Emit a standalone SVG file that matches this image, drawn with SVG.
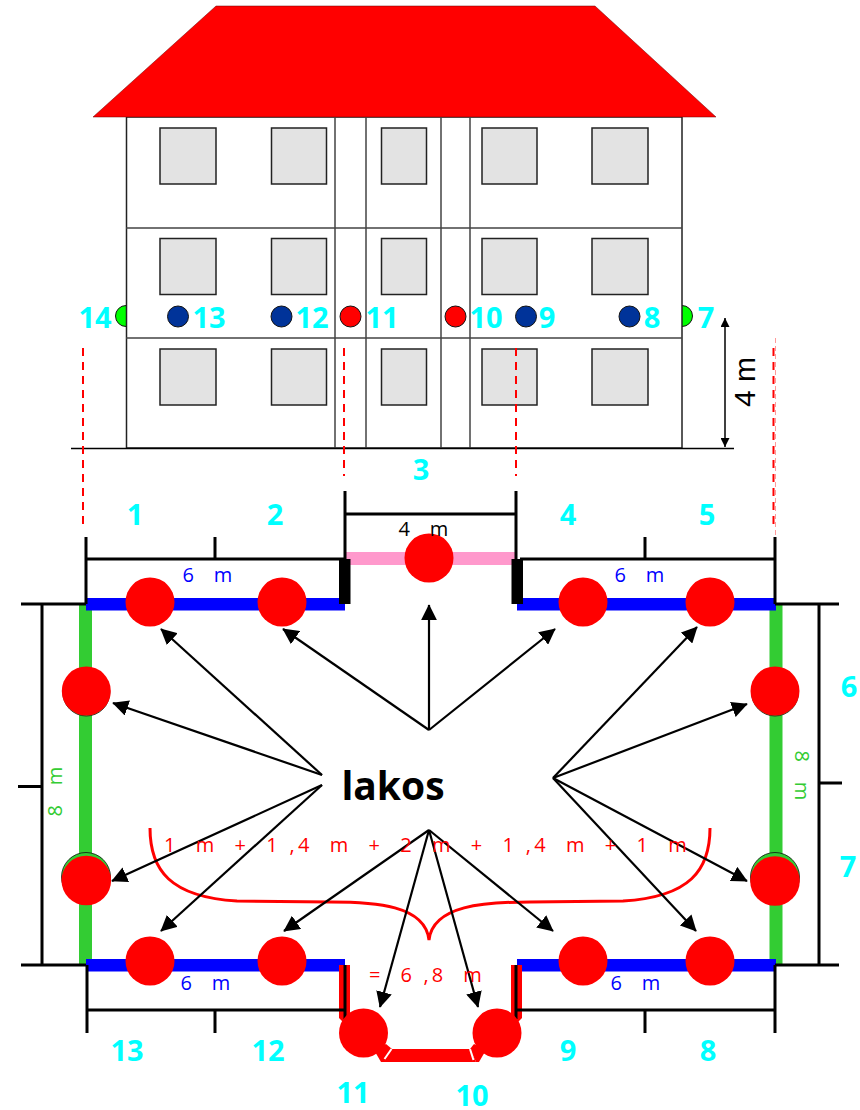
<svg xmlns="http://www.w3.org/2000/svg" width="860" height="1110" viewBox="0 0 860 1110">
<style>
text{font-family:"Open Sans","Noto Sans","Liberation Sans",sans-serif}
.n{font-weight:700;font-size:29px;fill:#00ffff;text-anchor:middle}
.w{fill:#e3e3e3;stroke:#222;stroke-width:1.5}
.g{stroke:#444;stroke-width:1.5;fill:none}
.d{stroke:#000;stroke-width:3;fill:none}
.rd{stroke:#f00;stroke-width:2;stroke-dasharray:8 6;fill:none}
.a{stroke:#000;stroke-width:2.2;fill:none;marker-end:url(#ah)}
.b{fill:#003399;stroke:#111;stroke-width:1}
.r{fill:#f00;stroke:#111;stroke-width:1}
.p{fill:#f00}
.ms{font-size:20px;letter-spacing:3.2px;text-anchor:middle}
</style>
<defs>
<marker id="ah" viewBox="0 0 10 10" refX="9.500" refY="5" markerWidth="16" markerHeight="16" markerUnits="userSpaceOnUse" orient="auto"><path d="M0 0L10 5L0 10Z" fill="#000"/></marker>
<marker id="dim" viewBox="0 0 10 10" refX="10" refY="5" markerWidth="11" markerHeight="9" markerUnits="userSpaceOnUse" orient="auto-start-reverse"><path d="M0 0L10 5L0 10Z" fill="#000"/></marker>
</defs>
<g id="elevation">
<circle cx="126" cy="316" r="10.500" fill="#00ff00" stroke="#111"/>
<circle cx="682" cy="316" r="10.500" fill="#00ff00" stroke="#111"/>
<rect x="126.500" y="117" width="555.500" height="331" fill="#fff" stroke="#222" stroke-width="1.500"/>
<polygon points="216,6 595,6 716,117 93,117" fill="#f00" stroke="#600" stroke-width="0.500"/>
<path class="g" d="M126 228H682M126 338H682M335 117V448M366 117V448M441 117V448M470 117V448"/>
<rect class="w" x="160" y="128" width="56" height="56"/><rect class="w" x="271.500" y="128" width="55" height="56"/><rect class="w" x="381.500" y="128" width="45" height="56"/><rect class="w" x="482" y="128" width="55" height="56"/><rect class="w" x="592" y="128" width="56" height="56"/>
<rect class="w" x="160" y="238.500" width="56" height="56"/><rect class="w" x="271.500" y="238.500" width="55" height="56"/><rect class="w" x="381.500" y="238.500" width="45" height="56"/><rect class="w" x="482" y="238.500" width="55" height="56"/><rect class="w" x="592" y="238.500" width="56" height="56"/>
<rect class="w" x="160" y="349" width="56" height="56"/><rect class="w" x="271.500" y="349" width="55" height="56"/><rect class="w" x="381.500" y="349" width="45" height="56"/><rect class="w" x="482" y="349" width="55" height="56"/><rect class="w" x="592" y="349" width="56" height="56"/>
<path d="M71 448.500H734" stroke="#000" stroke-width="1.500"/>
<circle class="b" cx="178" cy="316.500" r="10.500"/><circle class="b" cx="281.500" cy="316.500" r="10.500"/><circle class="r" cx="350.500" cy="316.500" r="10.500"/><circle class="r" cx="455.500" cy="316.500" r="10.500"/><circle class="b" cx="526" cy="316.500" r="10.500"/><circle class="b" cx="629.500" cy="316.500" r="10.500"/>
<path d="M725 318V447" stroke="#000" stroke-width="1.500" marker-start="url(#dim)" marker-end="url(#dim)"/>
<text transform="translate(755,407) rotate(-90)" font-size="30" fill="#000" style="font-family:'Liberation Sans',sans-serif">4 m</text>
<path class="rd" d="M83 348V526M344 348V476M516 348V476"/>
<path d="M775.500 338V536" stroke="#f99" stroke-width="1" stroke-dasharray="5 3"/>
<path d="M773.500 348V526" stroke="#f00" stroke-width="2" stroke-dasharray="8 6"/>
</g>
<g id="plan-walls">
<rect x="79" y="604" width="13" height="361" fill="#33cc33"/>
<rect x="769.500" y="604" width="13" height="361" fill="#33cc33"/>
<rect x="86" y="598" width="259" height="12.500" fill="#00f"/>
<rect x="517" y="598" width="259" height="12.500" fill="#00f"/>
<rect x="86" y="959" width="259" height="12.500" fill="#00f"/>
<rect x="517" y="959" width="259" height="12.500" fill="#00f"/>
<rect x="345" y="552" width="171" height="13" fill="#ff99cc"/>
<rect x="339" y="559" width="11.500" height="45" fill="#000"/>
<rect x="511.500" y="559" width="11.500" height="45" fill="#000"/>
<path d="M339 965H350V1018L345 1024L339 1018Z" class="p"/>
<path d="M511 965H522V1018L516 1024L511 1018Z" class="p"/>
<path d="M383 1062L391 1049H470L476 1062Z" class="p"/>
<path d="M374 1050L386 1044L392 1049L384 1062H381Z" class="p"/>
<path d="M486 1050L474 1044L470 1049L476 1062H479Z" class="p"/>
<path d="M391.500 1049L384.500 1059" stroke="#fff" stroke-width="2"/>
<path d="M470 1049L473.500 1060" stroke="#fff" stroke-width="2"/>
</g>
<g id="connectors">
<path class="d" d="M86 537V604M215 537V559M86 559H345M345 491V604M345 514H516M516 491V604M520 559H775M645 537V559M775 537V604M775 604H839M775 965H839M819 604V965M819 783H842M21 604H86M21 965H86M42 604V965M18 786.500H42M87 965V1033M87 1010H345M215 1010V1033M775 965V1033M517 1010H775M645 1010V1033M345 965V1019M516 965V1019"/>
<path d="M150 828C150 870 170 897 237 901L330 902C375 902 425 905 429 940C433 905 485 902 530 902L623 901C690 897 710 870 710 828" fill="none" stroke="#f00" stroke-width="3"/>
<path class="a" d="M429 730L283 629"/>
<path class="a" d="M429 730V605"/>
<path class="a" d="M429 730L555 629"/>
<path class="a" d="M322 775L161 629"/>
<path class="a" d="M322 775L113 703"/>
<path class="a" d="M322 785L112 881"/>
<path class="a" d="M322 785L161 931"/>
<path class="a" d="M553 778L697 627"/>
<path class="a" d="M553 778L747 704"/>
<path class="a" d="M553 778L747 881"/>
<path class="a" d="M553 778L696 931"/>
<path class="a" d="M429 830L284 931"/>
<path class="a" d="M429 830L380 1007"/>
<path class="a" d="M429 830L478 1007"/>
<path class="a" d="M429 830L553 931"/>
</g>
<g id="nodes">
<circle class="p" cx="150" cy="602" r="24.500"/><circle class="p" cx="282" cy="602" r="24.500"/><circle class="p" cx="429" cy="558" r="24.500"/><circle class="p" cx="583" cy="602" r="24.500"/><circle class="p" cx="710" cy="602" r="24.500"/>
<circle cx="86.300" cy="692.500" r="23.500" fill="#33cc33" stroke="#111" stroke-width="0.800"/><circle cx="775" cy="692.500" r="23.500" fill="#33cc33" stroke="#111" stroke-width="0.800"/>
<circle class="p" cx="86.300" cy="691" r="24.500"/><circle class="p" cx="775" cy="691" r="24.500"/>
<circle cx="86" cy="877" r="24.500" fill="#33cc33" stroke="#111" stroke-width="0.800"/><circle cx="775" cy="877" r="24.500" fill="#33cc33" stroke="#111" stroke-width="0.800"/>
<circle class="p" cx="86.300" cy="880.500" r="24.800"/><circle class="p" cx="775" cy="881" r="24.800"/>
<circle class="p" cx="150" cy="961" r="24.500"/><circle class="p" cx="282" cy="961" r="24.500"/><circle class="p" cx="583" cy="961" r="24.500"/><circle class="p" cx="710" cy="961" r="24.500"/>
<circle class="p" cx="363.500" cy="1033" r="24.500"/><circle class="p" cx="497" cy="1033" r="24.500"/>
</g>
<g id="labels">
<text class="n" x="95" y="328">14</text><text class="n" x="209" y="328">13</text><text class="n" x="312" y="328">12</text><text class="n" x="382" y="328">11</text><text class="n" x="486" y="328">10</text><text class="n" x="547" y="328">9</text><text class="n" x="652" y="328">8</text><text class="n" x="706" y="328">7</text>
<text class="n" x="421" y="480">3</text><text class="n" x="135" y="525">1</text><text class="n" x="275" y="525">2</text><text class="n" x="568" y="525">4</text><text class="n" x="707" y="525">5</text>
<text class="n" x="849" y="697">6</text><text class="n" x="848" y="877">7</text>
<text class="n" x="127" y="1061">13</text><text class="n" x="268" y="1061">12</text><text class="n" x="568" y="1061">9</text><text class="n" x="708" y="1061">8</text><text class="n" x="353" y="1103">11</text><text class="n" x="472" y="1106">10</text>
<text x="393" y="800" text-anchor="middle" font-size="39" font-weight="700" fill="#000" style="font-family:'Open Sans',sans-serif">lakos</text>
<text class="ms" x="425" y="536" fill="#000" xml:space="preserve">4  m</text>
<text class="ms" x="209" y="582" fill="#00f" xml:space="preserve">6  m</text>
<text class="ms" x="641" y="582" fill="#00f" xml:space="preserve">6  m</text>
<text class="ms" x="207" y="990" fill="#00f" xml:space="preserve">6  m</text>
<text class="ms" x="637" y="990" fill="#00f" xml:space="preserve">6  m</text>
<text class="ms" transform="translate(62,790) rotate(-90)" fill="#33cc33" xml:space="preserve">8  m</text>
<text class="ms" transform="translate(795,777) rotate(90)" fill="#33cc33" xml:space="preserve">8  m</text>
<text x="427" y="852" text-anchor="middle" font-size="20" fill="#f00" letter-spacing="3.300" xml:space="preserve">1  m  +  1 ,4  m  +  2  m  +  1 ,4  m  +  1  m</text>
<text x="427" y="982" text-anchor="middle" font-size="20" fill="#f00" letter-spacing="3.200" xml:space="preserve">=  6 ,8  m</text>
</g>
</svg>
